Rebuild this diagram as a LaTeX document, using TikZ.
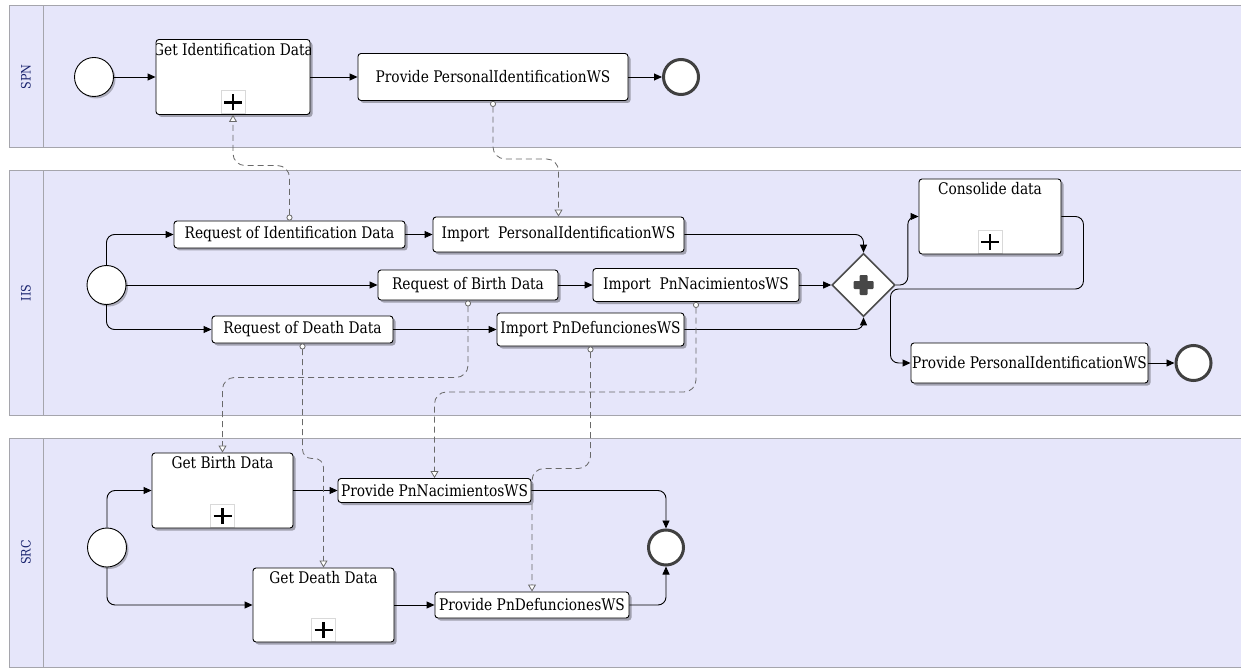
\documentclass[tikz,border=0pt]{standalone}
\usepackage{fontspec}
\setmainfont{DejaVu Serif}[FakeStretch=0.86]
\usetikzlibrary{arrows.meta,shapes.geometric,shadows}
\definecolor{lanefill}{RGB}{230,230,250}
\definecolor{laneline}{RGB}{165,165,172}
\definecolor{lanetext}{RGB}{25,35,110}
\definecolor{flowgray}{RGB}{105,105,105}
\definecolor{gwgray}{RGB}{75,75,75}

\begin{document}
\begin{tikzpicture}[x=1pt,y=-1pt,
  font=\fontsize{16}{18}\selectfont,
  task/.style={draw, rounded corners=3pt, line width=0.9pt, fill=white, inner sep=0pt,
    drop shadow={shadow xshift=2.5pt,shadow yshift=-2.5pt,fill=black,opacity=0.3}},
  subproc/.style={task, path picture={
    \node[anchor=north, inner sep=0pt, minimum width=0pt, minimum height=0pt]
      at ([yshift=-3pt]path picture bounding box.north) {#1};
    \draw[black!15, sharp corners, line width=0.6pt, fill=white]
      ([xshift=-12pt,yshift=1pt]path picture bounding box.south) rectangle ([xshift=12pt,yshift=24pt]path picture bounding box.south);
    \draw[line width=2.2pt]
      ([xshift=-9pt,yshift=12pt]path picture bounding box.south) -- ([xshift=9pt,yshift=12pt]path picture bounding box.south)
      ([yshift=4pt]path picture bounding box.south) -- ([yshift=20pt]path picture bounding box.south);
  }},
  startev/.style={circle, draw, line width=0.9pt, fill=white, minimum size=39pt, inner sep=0pt,
    drop shadow={shadow xshift=2pt,shadow yshift=-2pt,fill=black,opacity=0.25}},
  endev/.style={circle, draw=black!75, line width=3pt, fill=white, minimum size=35pt, inner sep=0pt},
  gateway/.style={diamond, draw=gwgray, line width=1.6pt, fill=white, minimum width=63pt,
    minimum height=63pt, inner sep=0pt, path picture={
    \fill[black!72, rounded corners=1pt]
      ([xshift=-10pt,yshift=-4pt]path picture bounding box.center) rectangle ([xshift=10pt,yshift=4pt]path picture bounding box.center)
      ([xshift=-4pt,yshift=-10pt]path picture bounding box.center) rectangle ([xshift=4pt,yshift=10pt]path picture bounding box.center);
  }},
  seq/.style={line width=0.9pt, rounded corners=8pt, -{Triangle[length=8pt,width=7pt]}},
  msg/.style={flowgray, line width=0.8pt, dash pattern=on 6pt off 4pt, rounded corners=12pt,
    {Circle[open,fill=white,length=6pt,width=6pt]}-{Triangle[open,fill=white,length=7pt,width=8pt]}},
  lane/.style={fill=lanefill, draw=laneline, line width=1pt},
  lanelabel/.style={rotate=90, text=lanetext, font=\fontsize{13}{15}\selectfont}
]
\useasboundingbox (0,0) rectangle (1241,668);
\fill[white] (0,0) rectangle (1241,668);

% pools
\foreach \laneid/\lanename/\ltop/\lbot in {spn/SPN/6/148, iis/IIS/171/415, src/SRC/438/667}{
  \draw[lane] (9,\ltop) rectangle (1250,\lbot);
  \draw[laneline, line width=1pt] (43,\ltop) -- (43,\lbot);
  \node[lanelabel] (\laneid) at (26,{(\ltop+\lbot)/2}) {\lanename};
}

% SPN
\node[startev] (spnstart) at (94,77) {};
\node[subproc={Get Identification Data}, minimum width=154pt, minimum height=75pt] (getid) at (233,77) {};
\node[task, minimum width=270pt, minimum height=47pt] (provpi) at (493,77) {Provide PersonalIdentificationWS};
\node[endev] (spnend) at (681,77) {};

% IIS
\node[startev] (iisstart) at (106.5,285) {};
\node[task, minimum width=231pt, minimum height=27pt] (reqid) at (289.5,234.5) {Request of Identification Data};
\node[task, minimum width=251pt, minimum height=35pt] (imppi) at (558.5,234.5) {Import\ \ PersonalIdentificationWS};
\node[task, minimum width=180pt, minimum height=30pt] (reqbirth) at (468,285) {Request of Birth Data};
\node[task, minimum width=206pt, minimum height=33pt] (impnac) at (696,285) {Import\ \ PnNacimientosWS};
\node[task, minimum width=181pt, minimum height=27pt] (reqdeath) at (302.5,329.5) {Request of Death Data};
\node[task, minimum width=187pt, minimum height=33pt] (impdef) at (590.5,329.5) {Import PnDefuncionesWS};
\node[gateway] (gw) at (863.5,285) {};
\node[subproc={Consolide data}, minimum width=142pt, minimum height=75pt] (consol) at (990,216.5) {};
\node[task, minimum width=237pt, minimum height=40pt] (provpi2) at (1029.5,363) {Provide PersonalIdentificationWS};
\node[endev] (iisend) at (1193.5,363) {};

% SRC
\node[startev] (srcstart) at (107,547.5) {};
\node[subproc={Get Birth Data}, minimum width=141pt, minimum height=75pt] (getbirth) at (222.5,490.5) {};
\node[subproc={Get Death Data}, minimum width=141pt, minimum height=74pt] (getdeath) at (323.5,605) {};
\node[task, minimum width=193pt, minimum height=24pt] (provnac) at (434.5,490.5) {Provide PnNacimientosWS};
\node[task, minimum width=194pt, minimum height=26pt] (provdef) at (532,605) {Provide PnDefuncionesWS};
\node[endev] (srcend) at (666,547.5) {};

% sequence flows
\draw[seq] (spnstart.east) -- (getid.west);
\draw[seq] (getid.east) -- (provpi.west);
\draw[seq] (provpi.east) -- (spnend.west);
\draw[seq] (iisstart.north) |- (reqid.west);
\draw[seq] (iisstart.east) -- (reqbirth.west);
\draw[seq] (iisstart.south) |- (reqdeath.west);
\draw[seq] (reqid.east) -- (imppi.west);
\draw[seq] (reqbirth.east) -- (impnac.west);
\draw[seq] (reqdeath.east) -- (impdef.west);
\draw[seq] (imppi.east) -| (gw.north);
\draw[seq] (impnac.east) -- (gw.west);
\draw[seq] (impdef.east) -| (gw.south);
\draw[seq] (gw.east) -- ++(12,0) |- (consol.west);
\draw[seq] (consol.east) -- ++(22,0) -- ++(0,72.5) -- ++(-193,0) |- (provpi2.west);
\draw[seq] (provpi2.east) -- (iisend.west);
\draw[seq] (srcstart.north) |- (getbirth.west);
\draw[seq] (srcstart.south) |- (getdeath.west);
\draw[seq] (getbirth.east) -- (provnac.west);
\draw[seq] (getdeath.east) -- (provdef.west);
\draw[seq] (provnac.east) -| (srcend.north);
\draw[seq] (provdef.east) -| (srcend.south);

% message flows
\draw[msg] (reqid.north) -- ++(0,-55) -| (getid.south);
\draw[msg] (provpi.south) -- ++(0,58) -| (imppi.north);
\draw[msg] (reqbirth.south) -- ++(0,77) -| (getbirth.north);
\draw[msg, rounded corners=9pt] (reqdeath.south) -- ++(0,115) -| (getdeath.north);
\draw[msg] (impnac.south) -- ++(0,90) -| (provnac.north);
\draw[msg] (impdef.south) -- ++(0,122) -| (provdef.north);
\end{tikzpicture}
\end{document}
